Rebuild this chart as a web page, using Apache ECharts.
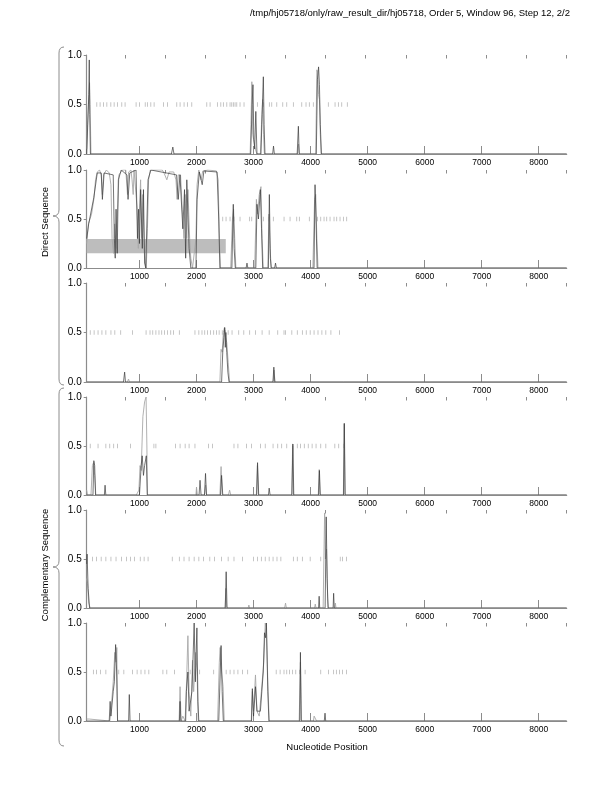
<!DOCTYPE html>
<html><head><meta charset="utf-8">
<script src="https://cdn.jsdelivr.net/npm/echarts@6.0.0/dist/echarts.min.js"></script>
<style>html,body{margin:0;padding:0;background:#fff}#c{width:612px;height:792px}</style>
</head><body><div id="c"></div>
<script>
var titleText = '/tmp/hj05718/only/raw_result_dir/hj05718, Order 5, Window 96, Step 12, 2/2';
var xName = 'Nucleotide Position';
var groupNames = ['Direct Sequence', 'Complementary Sequence'];
var majorTicks = [1000, 2000, 3000, 4000, 5000, 6000, 7000, 8000];
var minorTicks = [745, 1450, 2150, 2855, 3560, 4260, 4965, 5670, 6370, 7075, 7776, 8490];

// stop codon marks (x positions at y = 0.5)
var stops1 = [252,310,368,428,498,556,613,690,748,941,999,1101,1139,1199,1257,1420,1490,1654,1712,1782,1840,1917,2180,2238,2366,2426,2471,2531,2588,2618,2646,2676,2706,2763,2833,3067,3172,3277,3319,3407,3512,3582,3698,3845,3920,3978,4048,4311,4429,4487,4546,4644];
var stops2 = [2460,2518,2588,2658,2763,2927,2968,3172,3260,3347,3535,3640,3757,3803,3978,4119,4178,4236,4283,4341,4411,4458,4516,4575,4633];
var stops3 = [137,205,274,342,411,500,568,671,877,1116,1185,1233,1288,1342,1390,1438,1493,1548,1596,1699,1973,2041,2096,2144,2192,2246,2301,2349,2397,2452,2507,2555,2623,2740,2829,2932,3034,3150,3274,3424,3534,3561,3671,3767,3856,3924,3993,4061,4130,4198,4267,4356,4507];
var stops4 = [137,274,411,479,548,616,842,1253,1288,1630,1712,1801,1870,1973,2212,2281,2657,2726,2877,2966,3123,3205,3342,3424,3493,3582,3685,3767,3822,3890,3959,4027,4096,4178,4267,4425,4493,4575];
var stops5 = [178,247,329,411,500,589,685,774,842,911,1014,1082,1151,1575,1699,1781,1870,1959,2041,2123,2233,2315,2438,2555,2657,2808,3000,3068,3137,3205,3274,3342,3411,3479,3698,3767,3856,3993,4178,4520,4561,4630];
var stops6 = [192,247,315,411,637,726,877,959,1027,1096,1164,1411,1479,1616,1890,1973,2055,2301,2520,2589,2657,2726,2808,2897,3397,3466,3534,3582,3630,3685,3740,3808,3904,4178,4315,4404,4452,4507,4561,4630];

// gene box in panel 2: [xStart, xEnd, yLow, yHigh]
var box2 = [75, 2513, 0.15, 0.295];

// curves [position, probability]
var gray1 = [[75,0.05],[90,0.3],[105,0.5],[125,0.72],[135,0.5],[150,0],[2940,0],[2955,0.3],[2970,0.73],[2985,0.2],[3000,0.15],[3030,0.05],[3060,0],[3120,0],[3140,0.3],[3160,0.55],[3175,0.2],[3190,0],[3770,0],[3790,0.1],[3805,0],[4090,0],[4110,0.85],[4125,0.82],[4140,0.6],[4155,0.55],[4170,0.2],[4185,0],[8490,0]];
var black1 = [[75,0],[100,0],[112,0.6],[120,0.95],[128,0.4],[140,0],[1560,0],[1585,0.07],[1605,0],[2950,0],[2975,0.5],[2990,0.7],[3005,0.15],[3020,0.05],[3040,0.43],[3060,0],[3130,0],[3150,0.4],[3172,0.78],[3185,0.3],[3200,0],[3335,0],[3350,0.08],[3365,0],[3765,0],[3786,0.28],[3800,0],[4100,0],[4120,0.75],[4140,0.88],[4155,0.7],[4170,0.3],[4190,0],[4245,0],[4255,0.02],[4265,0],[8490,0]];

var gray2 = [[75,0.25],[105,0.45],[160,0.55],[200,0.7],[230,0.9],[260,0.98],[300,1.0],[330,0.95],[350,0.75],[370,0.95],[420,1.0],[470,0.97],[500,0.85],[520,0.3],[545,0.15],[565,0.45],[590,0.2],[610,0.5],[640,0.95],[700,1.0],[760,1.0],[790,0.75],[810,0.98],[850,1.0],[870,0.9],[890,0.75],[905,1.0],[940,0.98],[960,0.6],[980,0.2],[1000,0.6],[1020,0.9],[1040,0.3],[1060,0.75],[1080,0.3],[1100,0.05],[1120,0],[1140,0.4],[1160,0.9],[1190,1.0],[1400,1.0],[1430,0.97],[1480,0.9],[1520,0.98],[1600,0.98],[1640,0.9],[1660,0.7],[1680,0.95],[1720,0.95],[1750,0.6],[1780,0.3],[1800,0.75],[1830,0.3],[1850,0.8],[1880,0.3],[1900,0.1],[1930,0],[1960,0],[1990,0.3],[2010,0.85],[2040,1.0],[2080,0.9],[2110,0.99],[2200,1.0],[2350,0.99],[2380,0.9],[2400,0.3],[2420,0],[2600,0],[2630,0.5],[2650,0.6],[2670,0.3],[2690,0],[3020,0],[3050,0.7],[3070,0.55],[3100,0.75],[3130,0.83],[3150,0.3],[3170,0],[3250,0],[3270,0.55],[3290,0.2],[3310,0],[4040,0],[4070,0.7],[4090,0.75],[4110,0.3],[4130,0],[8490,0]];
var black2 = [[75,0.3],[110,0.45],[200,0.72],[260,0.97],[330,0.97],[350,0.7],[380,0.97],[540,0.95],[560,0.3],[575,0.1],[590,0.6],[610,0.15],[630,0.9],[680,1.0],[780,0.95],[800,0.7],[830,0.97],[940,1.0],[965,0.3],[985,0.6],[1000,0.25],[1020,0.8],[1050,0.2],[1070,0.8],[1090,0.05],[1110,0],[1150,0.9],[1200,1.0],[1650,0.95],[1680,0.7],[1710,0.95],[1760,0.4],[1790,0.8],[1810,0.1],[1830,0.9],[1870,0.2],[1900,0],[1990,0],[2010,0.7],[2050,0.98],[2100,0.85],[2130,0.99],[2360,0.98],[2390,0.5],[2410,0],[2620,0],[2645,0.65],[2660,0.2],[2680,0],[2870,0],[2885,0.05],[2900,0],[3040,0],[3060,0.65],[3085,0.5],[3120,0.8],[3140,0.4],[3160,0],[3260,0],[3277,0.75],[3295,0.1],[3310,0],[3370,0],[3385,0.05],[3400,0],[4060,0],[4078,0.85],[4095,0.5],[4115,0],[8490,0]];

var gray3 = [[75,0],[790,0],[808,0.03],[825,0],[2410,0],[2430,0.33],[2450,0.3],[2470,0.5],[2490,0.55],[2510,0.45],[2530,0.4],[2555,0.2],[2580,0],[3345,0],[3360,0.12],[3375,0],[4575,0],[4590,0.015],[4605,0],[8490,0]];
var black3 = [[75,0],[720,0],[740,0.1],[755,0],[2440,0],[2460,0.3],[2480,0.45],[2495,0.55],[2505,0.35],[2515,0.5],[2530,0.3],[2550,0.1],[2570,0],[3340,0],[3356,0.15],[3372,0],[8490,0]];

var gray4 = [[75,0.05],[90,0],[150,0],[175,0.3],[195,0.33],[215,0.2],[235,0],[945,0],[990,0.05],[1010,0.3],[1030,0.25],[1060,0.8],[1090,0.95],[1116,1.0],[1130,0.5],[1140,0],[1990,0],[2000,0.08],[2015,0],[2140,0],[2160,0.1],[2175,0],[2410,0],[2431,0.29],[2450,0],[2560,0],[2580,0.05],[2600,0],[3050,0],[3068,0.3],[3085,0],[3670,0],[3685,0.5],[3700,0],[4135,0],[4151,0.26],[4165,0],[4575,0],[4589,0.73],[4603,0],[8490,0]];
var black4 = [[75,0],[185,0],[200,0.35],[215,0.3],[230,0],[385,0],[397,0.1],[410,0],[1000,0],[1030,0.3],[1048,0.4],[1070,0.2],[1090,0.3],[1120,0.4],[1137,0],[2045,0],[2062,0.15],[2080,0],[2140,0],[2158,0.22],[2175,0],[2420,0],[2440,0.2],[2460,0],[3055,0],[3070,0.33],[3090,0],[3262,0],[3274,0.07],[3290,0],[3672,0],[3690,0.52],[3705,0],[4140,0],[4155,0.25],[4170,0],[4578,0],[4592,0.73],[4606,0],[8490,0]];

var gray5 = [[75,0.3],[90,0.25],[110,0.05],[137,0],[610,0],[623,0.02],[635,0],[2500,0],[2515,0.2],[2530,0],[2905,0],[2918,0.03],[2930,0],[3545,0],[3561,0.05],[3575,0],[4070,0],[4082,0.04],[4095,0],[4220,0],[4246,0.97],[4260,0.5],[4280,0.6],[4300,0.1],[4315,0],[4425,0],[4435,0.05],[4445,0],[8490,0]];
var black5 = [[75,0.45],[82,0.55],[100,0.2],[125,0],[2505,0],[2520,0.37],[2535,0],[4140,0],[4150,0.12],[4160,0],[4255,0],[4274,0.93],[4290,0.3],[4305,0],[4395,0],[4404,0.15],[4415,0],[8490,0]];

var gray6 = [[75,0.02],[120,0.02],[135,0],[480,0],[500,0.1],[540,0.4],[568,0.7],[590,0.6],[603,0.75],[616,0],[1260,0],[1274,0.02],[1288,0],[1695,0],[1712,0.35],[1730,0],[1760,0.05],[1800,0],[1822,0.33],[1849,0.87],[1870,0.3],[1900,0.05],[1930,0.62],[1950,0.3],[1985,0.7],[2010,0.5],[2030,0],[2370,0],[2400,0.6],[2415,0.75],[2440,0.5],[2466,0.35],[2486,0],[2960,0],[2979,0.3],[3000,0.1],[3034,0.47],[3060,0.1],[3100,0.05],[3137,0.3],[3180,0.6],[3205,1.0],[3225,0.95],[3250,0.4],[3274,0],[3800,0],[3822,0.6],[3840,0],[4050,0],[4062,0.05],[4090,0.03],[4105,0],[8490,0]];
var black6 = [[75,0],[470,0],[486,0.2],[500,0.05],[540,0.3],[560,0.4],[582,0.78],[600,0.5],[616,0],[810,0],[822,0.27],[835,0],[1700,0],[1712,0.2],[1725,0],[1810,0],[1822,0.3],[1849,0.5],[1870,0.1],[1920,0.3],[1959,1.0],[1980,0.4],[2007,0.95],[2025,0.2],[2040,0],[2390,0],[2431,0.77],[2450,0.3],[2470,0],[2965,0],[2979,0.33],[3000,0.05],[3034,0.35],[3060,0.1],[3120,0.1],[3170,0.5],[3192,0.9],[3210,0.85],[3226,1.0],[3250,0.3],[3270,0],[3810,0],[3822,0.7],[3835,0],[4240,0],[4253,0.08],[4265,0],[8490,0]];

var grays = [gray1, gray2, gray3, gray4, gray5, gray6];
var blacks = [black1, black2, black3, black4, black5, black6];
var stops = [stops1, stops2, stops3, stops4, stops5, stops6];

var FONT = 'Liberation Sans';
var tops = [55, 170, 283, 397, 510, 623];
var heights = [99, 98, 99, 98, 98, 98];
var AX = '#8c8c8c';

var grid = [], xAxis = [], yAxis = [], series = [];
for (var i = 0; i < 6; i++) {
  grid.push({left: 86.7, width: 480, top: tops[i], height: heights[i]});
  xAxis.push({gridIndex: i, type: 'value', min: 75, max: 8490,
    axisLine: {show: true, lineStyle: {color: AX, width: 1.2}},
    axisTick: {show: true, inside: true, length: 8, customValues: majorTicks, lineStyle: {color: AX, width: 1}},
    axisLabel: {show: true, customValues: majorTicks, formatter: function (v) { return String(v); }, fontSize: 8.5, margin: 4, color: '#000', fontFamily: FONT},
    splitLine: {show: false}});
  xAxis.push({gridIndex: i, type: 'value', min: 75, max: 8490,
    axisLine: {show: false},
    axisTick: {show: true, inside: true, length: 3.5, customValues: minorTicks, lineStyle: {color: AX, width: 1}},
    axisLabel: {show: false}, splitLine: {show: false}});
  yAxis.push({gridIndex: i, type: 'value', min: 0, max: 1, interval: 0.5,
    axisLine: {show: true, lineStyle: {color: AX, width: 1.2}},
    axisTick: {show: true, length: 3, lineStyle: {color: AX}},
    axisLabel: {formatter: function (v) { return v.toFixed(1); }, fontSize: 10, margin: 5, color: '#000', fontFamily: FONT},
    splitLine: {show: false}});
  var gs = {type: 'line', xAxisIndex: 2 * i, yAxisIndex: i, data: grays[i], showSymbol: false, symbol: 'none',
    lineStyle: {color: '#a8a8a8', width: 0.9}, animation: false, z: 3};
  if (i === 1) {
    gs.markArea = {silent: true, itemStyle: {color: '#bdbdbd'},
      data: [[{coord: [box2[0], box2[2]]}, {coord: [box2[1], box2[3]]}]]};
  }
  series.push(gs);
  series.push({type: 'line', xAxisIndex: 2 * i, yAxisIndex: i, data: blacks[i], showSymbol: false, symbol: 'none',
    lineStyle: {color: '#3a3a3a', width: 0.7}, animation: false, z: 4});
  series.push({type: 'scatter', xAxisIndex: 2 * i, yAxisIndex: i, symbol: 'rect', symbolSize: [0.8, 4.5],
    data: stops[i].map(function (x) { return [x, 0.5]; }), itemStyle: {color: '#a5a5a5'}, animation: false, z: 2});
}

function brace(top, mid, bottom) {
  var st = {stroke: '#8c8c8c', lineWidth: 1, fill: null};
  var xv = 59, xe = 64, xp = 53;
  return [
    {type: 'bezierCurve', shape: {x1: xe, y1: top, cpx1: xv, cpy1: top, x2: xv, y2: top + 6}, style: st},
    {type: 'line', shape: {x1: xv, y1: top + 6, x2: xv, y2: mid - 6}, style: st},
    {type: 'bezierCurve', shape: {x1: xv, y1: mid - 6, cpx1: xv, cpy1: mid, x2: xp, y2: mid}, style: st},
    {type: 'bezierCurve', shape: {x1: xp, y1: mid, cpx1: xv, cpy1: mid, x2: xv, y2: mid + 6}, style: st},
    {type: 'line', shape: {x1: xv, y1: mid + 6, x2: xv, y2: bottom - 6}, style: st},
    {type: 'bezierCurve', shape: {x1: xv, y1: bottom - 6, cpx1: xv, cpy1: bottom, x2: xe, y2: bottom}, style: st}
  ];
}

var graphics = [
  {type: 'text', style: {x: 570, y: 13, text: titleText, textAlign: 'right', textVerticalAlign: 'middle', fontSize: 9.5, fontFamily: FONT, fill: '#000'}},
  {type: 'text', style: {x: 327, y: 747, text: xName, textAlign: 'center', textVerticalAlign: 'middle', fontSize: 9.5, fontFamily: FONT, fill: '#000'}},
  {type: 'text', rotation: Math.PI / 2, x: 45, y: 222, style: {x: 0, y: 0, text: groupNames[0], textAlign: 'center', textVerticalAlign: 'middle', fontSize: 9.5, fontFamily: FONT, fill: '#000'}},
  {type: 'text', rotation: Math.PI / 2, x: 45, y: 565, style: {x: 0, y: 0, text: groupNames[1], textAlign: 'center', textVerticalAlign: 'middle', fontSize: 9.5, fontFamily: FONT, fill: '#000'}}
].concat(brace(47, 216, 385)).concat(brace(388, 567, 746));

var chart = echarts.init(document.getElementById('c'), null, {renderer: 'canvas'});
chart.setOption({
  backgroundColor: '#fff',
  animation: false,
  grid: grid, xAxis: xAxis, yAxis: yAxis, series: series,
  graphic: graphics
});
</script></body></html>
